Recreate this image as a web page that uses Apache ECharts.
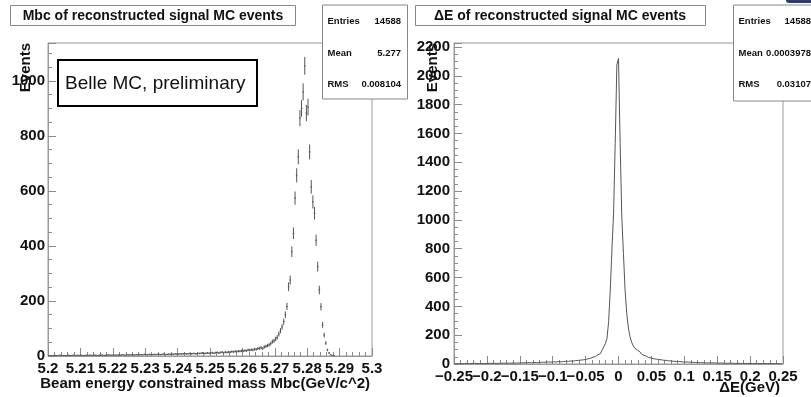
<!DOCTYPE html>
<html>
<head>
<meta charset="utf-8">
<script src="https://cdn.jsdelivr.net/npm/echarts@6/dist/echarts.min.js"></script>
<style>
  html, body { margin: 0; padding: 0; background: #fff; }
  #main { width: 811px; height: 397px; }
</style>
</head>
<body>
<div id="main"></div>
<script>
// Mbc histogram: 200 bins from 5.2 to 5.3
var mbcRange = [5.2, 5.3];
var mbcCounts = [
    1, 2, 1, 2, 2, 1, 2, 3, 1, 2,
    2, 1, 3, 2, 2, 3, 2, 2, 3, 2,
    3, 2, 2, 3, 2, 3, 3, 2, 3, 3,
    2, 3, 3, 4, 2, 3, 3, 4, 3, 3,
    4, 3, 3, 4, 3, 4, 4, 3, 5, 4,
    4, 5, 4, 4, 5, 4, 5, 5, 4, 6,
    5, 4, 6, 5, 5, 6, 5, 6, 6, 5,
    6, 7, 5, 6, 7, 6, 7, 6, 8, 7,
    7, 8, 7, 8, 9, 7, 8, 9, 8, 9,
    9, 8, 10, 9, 10, 11, 9, 10, 11, 10,
    11, 12, 10, 12, 13, 11, 13, 14, 12, 14,
    13, 15, 14, 16, 15, 17, 16, 18, 17, 19,
    18, 20, 19, 22, 21, 23, 22, 25, 24, 27,
    28, 30, 27, 33, 35, 38, 40, 45, 52, 55, 62, 68, 80, 92, 106, 125, 150, 180,
    252, 276, 379, 446, 574, 657, 724, 865, 900, 960, 1055, 883, 905, 742, 615,
    560, 519, 421, 325, 240, 179, 113, 76, 47, 22, 11, 5, 2, 1,
    0, 0, 0, 0, 0, 0, 0, 0, 0, 0, 0, 0, 0, 0, 0, 0, 0, 0, 0, 0, 0, 0, 0
];

// Delta E histogram: 200 bins from -0.25 to 0.25
var dERange = [-0.25, 0.25];
var dECounts = [
    3, 2, 4, 3, 2, 3, 4, 3, 3, 2, 4, 3, 5, 3, 4, 3, 4, 5, 3, 4,
    4, 5, 4, 6, 5, 4, 6, 5, 5, 7, 6, 5, 7, 6, 6, 8, 7, 6, 8, 7,
    8, 7, 9, 8, 9, 10, 8, 10, 11, 9, 11, 10, 12, 11, 12, 13, 12, 14, 13, 14,
    15, 14, 16, 17, 15, 18, 17, 19, 20, 18, 21, 22, 20, 24, 23, 25, 27, 26, 29, 31,
    34, 36, 40, 43, 47, 52, 58, 64, 72, 82, 96, 118, 142,
    178, 294, 513, 791, 1046, 1531, 2075, 2121, 1531, 1022, 768, 513, 352,
    250, 190, 150, 125, 108, 96, 85, 76, 68, 60, 54, 49, 45, 41, 38,
    36, 34, 32, 31, 29, 27, 26, 25, 23, 22, 21, 20, 19, 18, 17, 17, 16, 15, 14,
    14, 13, 13, 12, 12, 11, 11, 10, 10, 9, 10, 9, 8, 9, 8, 8, 7, 8, 7, 7,
    6, 7, 6, 6, 5, 6, 5, 6, 5, 5, 4, 5, 5, 4, 5, 4, 4, 3, 4, 4,
    3, 4, 3, 3, 4, 3, 2, 3, 3, 2, 3, 3, 2, 3, 2, 2, 3, 2, 2, 1
];

var mbcStats = [['Entries', '14588'], ['Mean', '5.277'], ['RMS', '0.008104']];
var dEStats = [['Entries', '14588'], ['Mean', '0.0003978'], ['RMS', '0.03107']];

var mbcW = (mbcRange[1] - mbcRange[0]) / mbcCounts.length;
var dEW = (dERange[1] - dERange[0]) / dECounts.length;

var mbcData = [];
mbcCounts.forEach(function (c, i) {
    if (c > 0) mbcData.push([mbcRange[0] + (i + 0.5) * mbcW, c]);
});
var dEData = dECounts.map(function (c, i) {
    return [dERange[0] + (i + 0.5) * dEW, c];
});

var FONT = 'Liberation Sans';
var frameColor = '#9a9a9a';
var tickColor = '#8a8a8a';

function yAxisOf(gridIndex, max, margin) {
    return {
        type: 'value', gridIndex: gridIndex, min: 0, max: max, interval: 200,
        axisLine: {show: true, onZero: false, lineStyle: {color: frameColor}},
        axisTick: {show: true, inside: true, length: 8, lineStyle: {color: tickColor}},
        minorTick: {show: true, splitNumber: 4, length: 4, lineStyle: {color: tickColor}},
        splitLine: {show: false},
        axisLabel: {
            margin: margin, color: '#111', fontFamily: FONT, fontWeight: 'bold', fontSize: 15,
            formatter: function (v) {
                return Math.abs(v - Math.round(v / 200) * 200) < 1e-6 ? String(Math.round(v)) : '';
            }
        }
    };
}

function xAxisOf(gridIndex, range, interval, fmt) {
    return {
        type: 'value', gridIndex: gridIndex, min: range[0], max: range[1], interval: interval,
        axisLine: {show: true, onZero: false, lineStyle: {color: frameColor}},
        axisTick: {show: true, inside: true, length: 8, lineStyle: {color: tickColor}},
        minorTick: {show: true, splitNumber: 5, length: 4, lineStyle: {color: tickColor}},
        splitLine: {show: false},
        axisLabel: {
            margin: 5, color: '#111', fontFamily: FONT, fontWeight: 'bold', fontSize: 15,
            showMinLabel: true, showMaxLabel: true,
            formatter: fmt
        }
    };
}

function dELabel(v) {
    var s = String(+Math.abs(v).toFixed(2));
    return v < -1e-9 ? '\u2212' + s : s;
}

function boxText(x, y, text, align, size, weight) {
    return {
        type: 'text', x: x, y: y, z: 101,
        style: {
            text: text, fill: '#111', font: (weight || 'bold') + ' ' + size + 'px "' + FONT + '"',
            align: align, verticalAlign: 'middle'
        }
    };
}

function statsBox(x, w, h, right, rows) {
    var items = [{
        type: 'rect', z: 100, shape: {x: x, y: 5, width: w, height: h},
        style: {fill: '#fff', stroke: '#888', lineWidth: 1}
    }];
    rows.forEach(function (r, i) {
        items.push(boxText(x + 5, 21.5 + i * 31.5, r[0], 'left', 9.5));
        items.push(boxText(right, 21.5 + i * 31.5, r[1], 'right', 9.5));
    });
    return items;
}

var graphics = [
    // pad titles
    {type: 'rect', z: 100, shape: {x: 10.5, y: 5.5, width: 285, height: 20},
        style: {fill: '#fff', stroke: '#888', lineWidth: 1}},
    boxText(153, 16, 'Mbc of reconstructed signal MC events', 'center', 14),
    {type: 'rect', z: 100, shape: {x: 415.5, y: 5.5, width: 290, height: 20},
        style: {fill: '#fff', stroke: '#888', lineWidth: 1}},
    boxText(560, 16, '\u0394E of reconstructed signal MC events', 'center', 14),
    // y titles
    {type: 'text', x: 26, y: 43, rotation: Math.PI / 2, z: 101,
        style: {text: 'Events', fill: '#111', font: 'bold 15px "' + FONT + '"', align: 'right', verticalAlign: 'middle'}},
    {type: 'text', x: 433, y: 43, rotation: Math.PI / 2, z: 101,
        style: {text: 'Events', fill: '#111', font: 'bold 15px "' + FONT + '"', align: 'right', verticalAlign: 'middle'}},
    // x titles
    boxText(370, 384, 'Beam energy constrained mass Mbc(GeV/c^2)', 'right', 15),
    boxText(780, 388, '\u0394E(GeV)', 'right', 15),
    // overlay label
    {type: 'rect', z: 100, shape: {x: 58, y: 60, width: 199, height: 46},
        style: {fill: '#fff', stroke: '#000', lineWidth: 2}},
    boxText(65, 84, 'Belle MC, preliminary', 'left', 19, 'normal'),
    // corner logo fragment
    {type: 'rect', z: 100, shape: {x: 786, y: 0, width: 25, height: 3, r: [0, 0, 0, 3]},
        style: {fill: '#2a3d6b'}}
].concat(statsBox(322.5, 85, 94, 401, mbcStats))
 .concat(statsBox(733.5, 90, 96, 811, dEStats));

var dom = document.getElementById('main');
var myChart = echarts.init(dom, null, {renderer: 'canvas'});

// second label-only axis on the right pad: the -0.2 label touches -0.25
// and ECharts would drop one of them on a single axis
var dEOnlyTick = -0.2;

var option = {
    animation: false,
    backgroundColor: '#fff',
    grid: [
        {left: 48, top: 43, width: 324, height: 313, show: true, borderColor: frameColor, borderWidth: 1},
        {left: 454, top: 43, width: 329, height: 321, show: true, borderColor: frameColor, borderWidth: 1}
    ],
    xAxis: [
        xAxisOf(0, mbcRange, 0.01, function (v) { return String(+v.toFixed(2)); }),
        xAxisOf(1, dERange, 0.05, function (v) {
            return Math.abs(v - dEOnlyTick) < 1e-9 ? '' : dELabel(v);
        }),
        {
            type: 'value', gridIndex: 1, position: 'bottom', offset: 0,
            min: dERange[0], max: dERange[1], interval: 0.05,
            axisLine: {show: false}, axisTick: {show: false}, splitLine: {show: false},
            axisLabel: {
                margin: 5, color: '#111', fontFamily: FONT, fontWeight: 'bold', fontSize: 15,
                showMinLabel: true, showMaxLabel: true,
                formatter: function (v) {
                    return Math.abs(v - dEOnlyTick) < 1e-9 ? dELabel(v) : '';
                }
            }
        }
    ],
    yAxis: [yAxisOf(0, 1138, 3), yAxisOf(1, 2228, 4)],
    series: [
        {
            name: 'Mbc',
            type: 'custom',
            xAxisIndex: 0, yAxisIndex: 0,
            data: mbcData,
            renderItem: function (params, api) {
                var x = api.value(0), y = api.value(1), e = Math.sqrt(y);
                var top = api.coord([x, y + e]), bot = api.coord([x, Math.max(0, y - e)]);
                var l = api.coord([x - mbcW / 2, y]), r = api.coord([x + mbcW / 2, y]);
                return {
                    type: 'group',
                    children: [
                        {type: 'line', shape: {x1: top[0], y1: top[1], x2: bot[0], y2: bot[1]},
                            style: {stroke: '#555', lineWidth: 1}},
                        {type: 'line', shape: {x1: l[0], y1: l[1], x2: r[0], y2: r[1]},
                            style: {stroke: '#555', lineWidth: 1}}
                    ]
                };
            }
        },
        {
            name: 'dE',
            type: 'line',
            xAxisIndex: 1, yAxisIndex: 1,
            step: 'middle',
            symbol: 'none',
            data: dEData,
            lineStyle: {color: '#555', width: 1}
        }
    ],
    graphic: graphics
};

if (option && typeof option === "object") {
    myChart.setOption(option, true);
}
</script>
</body>
</html>
